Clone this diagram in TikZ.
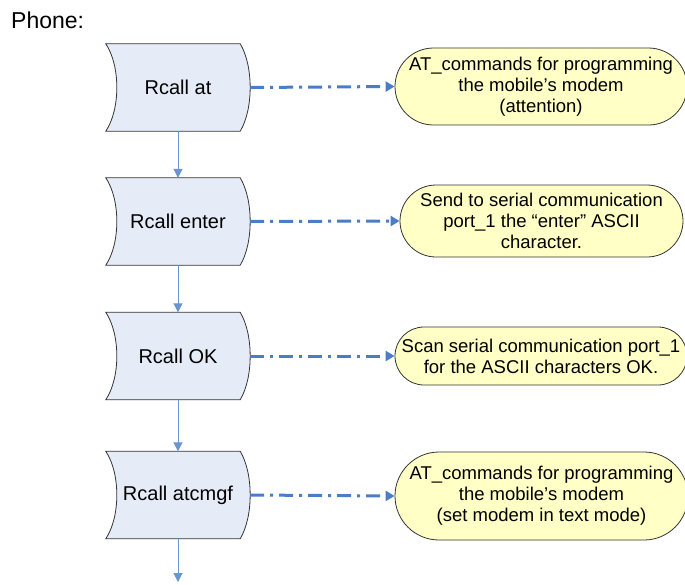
\documentclass[tikz,border=0pt]{standalone}
\usepackage{fontspec}
\setmainfont{Liberation Sans}
\usetikzlibrary{arrows.meta,backgrounds,calc,positioning}
\definecolor{linkblue}{HTML}{4A7CC8}
\definecolor{flowblue}{HTML}{6C93D2}
\definecolor{storefill}{HTML}{E6ECF7}
\definecolor{notefill}{HTML}{FFFFC6}
\tikzset{%
	storage/.style = {minimum width=144pt, minimum height=87pt, inner sep=0pt, font=\fontsize{20}{22}\selectfont},
	storeline/.style = {draw=black!80, fill=storefill, line width=0.8pt},
	note/.style    = {draw=black!80, fill=notefill, line width=0.8pt, align=center, inner sep=0pt, font=\fontsize{18.5}{21}\selectfont},
	flow/.style    = {draw=flowblue, line width=1pt, -{Triangle[length=9pt,width=9pt]}},
	link/.style    = {draw=linkblue, line width=3pt, dash pattern=on 14pt off 6pt on 3pt off 6pt, -{Triangle[length=9pt,width=10pt]}},
}

\begin{document}
\begin{tikzpicture}[x=1pt,y=-1pt]
		\useasboundingbox (0,0) rectangle (685,584);
		\node[anchor=west, inner sep=0pt, font=\fontsize{23}{25}\selectfont] (phone) at (11,20) {Phone:};
		
		% stored data column
		\node[storage] (at)    at (178,87.5)  {Rcall at};
		\node[storage] (enter) at (178,221.5) {Rcall enter};
		\node[storage] (ok)    at (178,356)   {Rcall OK};
		\node[storage] (cmgf)  at (178,495)   {Rcall atcmgf};
		\coordinate (tail) at (178,582);
		
		\begin{scope}[on background layer]
		\foreach \n in {at,enter,ok,cmgf} \draw[storeline] (\n.north west) -- ([xshift=-10pt]\n.north east)
			.. controls ($(\n.north east)+(3.3pt,-22pt)$) and ($(\n.south east)+(3.3pt,22pt)$) .. ([xshift=-10pt]\n.south east)
			-- (\n.south west)
			.. controls ($(\n.south west)+(14.7pt,22pt)$) and ($(\n.north west)+(14.7pt,-22pt)$) .. cycle;
		\end{scope}
		
		% notes
		\node[note, minimum width=292pt, minimum height=77pt, rounded corners=38.5pt] (atnote) at (541,86.5) {AT\_commands for programming\\the mobile’s modem\\(attention)};
		\node[note, minimum width=283pt, minimum height=72pt, rounded corners=36pt] (enternote) at (541.5,221) {Send to serial communication\\port\_1 the “enter” ASCII\\character.};
		\node[note, minimum width=292pt, minimum height=58pt, rounded corners=29pt] (oknote) at (541,356) {Scan serial communication port\_1\\for the ASCII characters OK.};
		\node[note, minimum width=293pt, minimum height=88pt, rounded corners=44pt] (cmgfnote) at (541.5,496) {AT\_commands for programming\\the mobile’s modem\\(set modem in text mode)};
		
		\foreach \a/\b in {at/enter,enter/ok,ok/cmgf} \draw[flow] (\a.south) -- (\b.north);
		\draw[flow] (cmgf.south) -- (tail);
		
		\foreach \a in {at,enter,ok,cmgf} \draw[link] (\a.east) -- (\a note.west);
		
\end{tikzpicture}
\end{document}
